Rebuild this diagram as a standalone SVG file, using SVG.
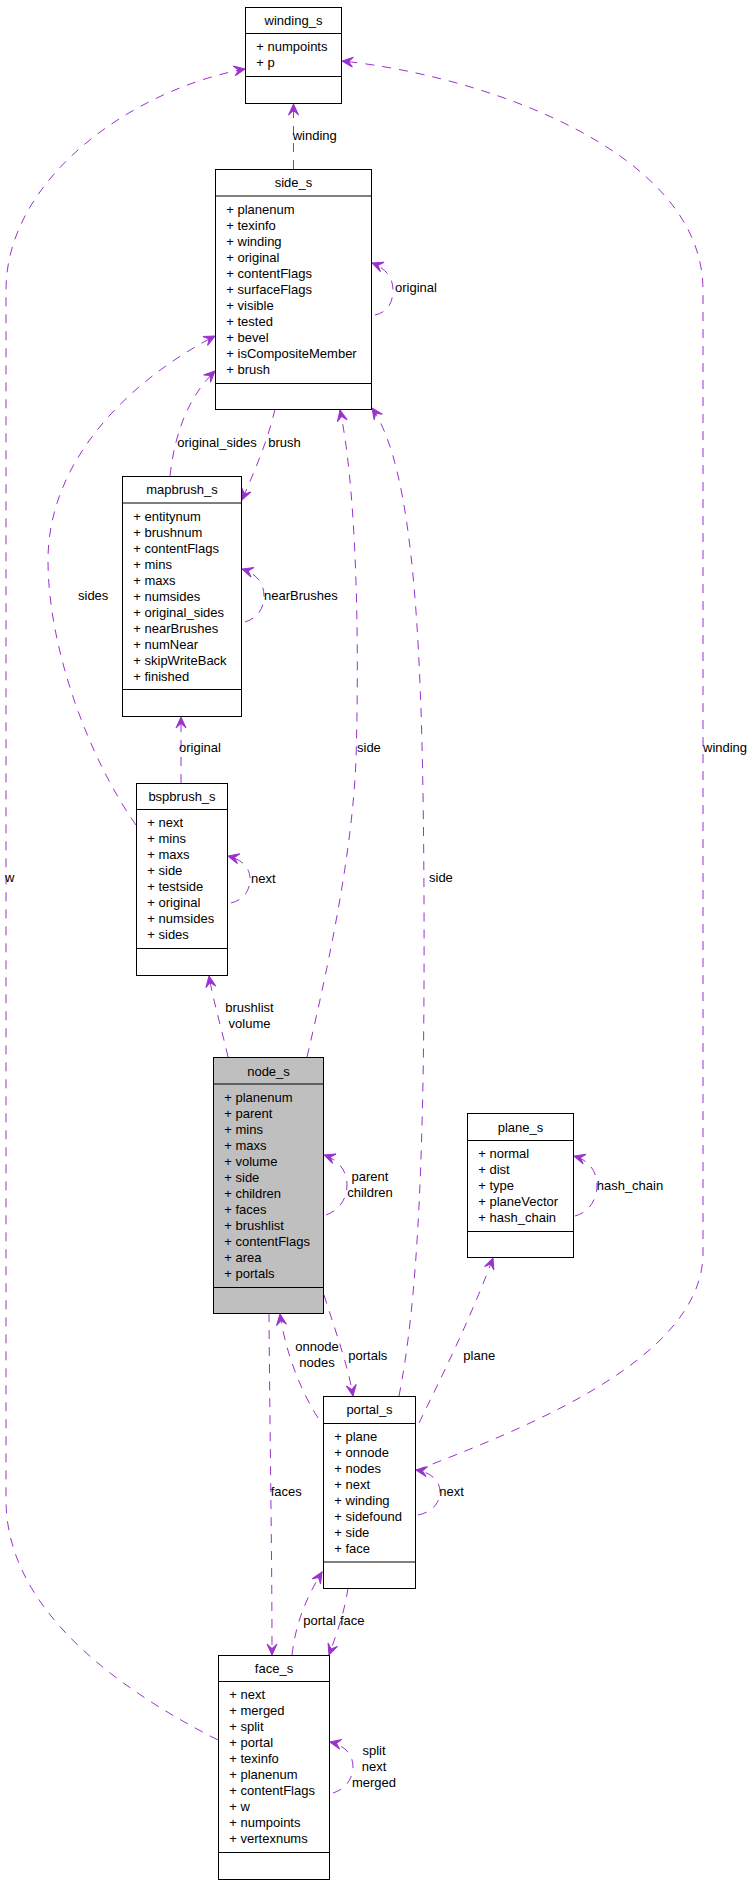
<svg xmlns="http://www.w3.org/2000/svg" width="755" height="1885" viewBox="0 0 755 1885">
<style>
.box{fill:#ffffff;stroke:#000000;stroke-width:1}
.gray{fill:#bfbfbf}
.sep{stroke:#000000;stroke-width:1}
.t{font-family:"Liberation Sans",Arial,Helvetica,sans-serif;font-size:13px;fill:#000000}
.c{text-anchor:middle}
.e{fill:none;stroke:#9a32cd;stroke-width:1;stroke-dasharray:9,8;marker-end:url(#arr)}
</style>
<defs>
<marker id="arr" markerUnits="userSpaceOnUse" viewBox="-12 -6 13 12" refX="0" refY="0" markerWidth="13" markerHeight="12" orient="auto">
<path d="M0,0 L-11,-5 L-6.5,0 L-11,5 Z" fill="#9a32cd" stroke="#9a32cd" stroke-width="1"/>
</marker>
</defs>
<rect width="755" height="1885" fill="#ffffff"/>

<g id="connectors">
<path class="e" d="M293.5,169 L293.5,104"/>
<path class="e" d="M218,1740 C 100,1680 6,1600 6,1500 L6,290 C 6,180 130,90 245,69"/>
<path class="e" d="M417,1470 C 520,1430 703,1360 703,1253 L703,290 C 703,150 480,75 342,61"/>
<path class="e" d="M375,315 C 388,312 393,302 393,290 C 393,277 385,268 372,263"/>
<path class="e" d="M136,825 C 90,760 48,650 48,560 C 48,460 130,380 215,336"/>
<path class="e" d="M170,476 C 175,430 190,395 215,371"/>
<path class="e" d="M307,1057 C 325,980 352,860 356,760 C 360,620 355,480 340,410"/>
<path class="e" d="M399,1396 C 418,1300 425,1150 424,900 C 423,650 415,470 372,408"/>
<path class="e" d="M275,409 C 268,440 255,470 242,500"/>
<path class="e" d="M245,622 C 258,618 264,608 264,596 C 264,582 255,573 242,569"/>
<path class="e" d="M181,783 L181,717"/>
<path class="e" d="M231,903 C 244,900 250,890 250,879 C 250,866 240,859 228,856"/>
<path class="e" d="M228,1057 C 222,1030 213,1000 209,976"/>
<path class="e" d="M326,1215 C 340,1210 347,1198 347,1185 C 347,1170 338,1160 324,1155"/>
<path class="e" d="M318,1418 C 300,1390 285,1350 280,1314"/>
<path class="e" d="M269,1313 C 270,1450 272,1550 272,1655"/>
<path class="e" d="M324,1295 C 335,1330 348,1365 353,1396"/>
<path class="e" d="M419,1423 C 440,1380 470,1320 493,1258"/>
<path class="e" d="M575,1216 C 590,1212 597,1198 597,1186 C 597,1170 588,1160 574,1156"/>
<path class="e" d="M418,1515 C 433,1512 440,1502 440,1492 C 440,1480 430,1472 416,1470"/>
<path class="e" d="M292,1655 C 296,1620 308,1595 322,1572"/>
<path class="e" d="M348,1588 C 345,1610 338,1630 329,1655"/>
<path class="e" d="M333,1793 C 346,1789 353,1778 353,1767 C 353,1754 344,1745 330,1742"/>

<text class="t" x="292.7" y="140">winding</text>
<text class="t" x="5" y="882">w</text>
<text class="t" x="703" y="752">winding</text>
<text class="t" x="395" y="292">original</text>
<text class="t" x="78" y="600">sides</text>
<text class="t" x="177.3" y="447">original_sides</text>
<text class="t" x="357" y="752">side</text>
<text class="t" x="429" y="882">side</text>
<text class="t" x="268.3" y="447">brush</text>
<text class="t" x="264" y="600">nearBrushes</text>
<text class="t" x="179" y="752">original</text>
<text class="t" x="251" y="883">next</text>
<text class="t c" x="249.5" y="1012">brushlist</text>
<text class="t c" x="249.5" y="1028">volume</text>
<text class="t c" x="370" y="1181">parent</text>
<text class="t c" x="370" y="1197">children</text>
<text class="t c" x="317" y="1351">onnode</text>
<text class="t c" x="317" y="1367">nodes</text>
<text class="t" x="270.7" y="1496">faces</text>
<text class="t" x="348.3" y="1359.5">portals</text>
<text class="t" x="463.3" y="1359.5">plane</text>
<text class="t" x="596.7" y="1189.5">hash_chain</text>
<text class="t" x="439.3" y="1496">next</text>
<text class="t" x="303.3" y="1625">portal</text>
<text class="t" x="340" y="1625">face</text>
<text class="t c" x="374" y="1755">split</text>
<text class="t c" x="374" y="1771">next</text>
<text class="t c" x="374" y="1787">merged</text>
</g>

<g id="winding_s">
<rect class="box" x="245.5" y="7.5" width="96" height="96"/>
<line class="sep" x1="245.5" y1="33.5" x2="341.5" y2="33.5"/>
<line class="sep" x1="245.5" y1="76.5" x2="341.5" y2="76.5"/>
<text class="t c" x="293.5" y="25">winding_s</text>
<text class="t" x="256.3" y="51">+ numpoints</text>
<text class="t" x="256.3" y="67">+ p</text>
</g>

<g id="side_s">
<rect class="box" x="215.5" y="169.5" width="156" height="240"/>
<line class="sep" x1="215.5" y1="196" x2="371.5" y2="196"/>
<line class="sep" x1="215.5" y1="383.5" x2="371.5" y2="383.5"/>
<text class="t c" x="293.5" y="187">side_s</text>
<text class="t" x="226.3" y="213.5">+ planenum</text>
<text class="t" x="226.3" y="229.5">+ texinfo</text>
<text class="t" x="226.3" y="245.5">+ winding</text>
<text class="t" x="226.3" y="261.5">+ original</text>
<text class="t" x="226.3" y="277.5">+ contentFlags</text>
<text class="t" x="226.3" y="293.5">+ surfaceFlags</text>
<text class="t" x="226.3" y="309.5">+ visible</text>
<text class="t" x="226.3" y="325.5">+ tested</text>
<text class="t" x="226.3" y="341.5">+ bevel</text>
<text class="t" x="226.3" y="357.5">+ isCompositeMember</text>
<text class="t" x="226.3" y="373.5">+ brush</text>
</g>

<g id="mapbrush_s">
<rect class="box" x="122.5" y="476.5" width="119" height="240"/>
<line class="sep" x1="122.5" y1="503" x2="241.5" y2="503"/>
<line class="sep" x1="122.5" y1="689.5" x2="241.5" y2="689.5"/>
<text class="t c" x="182" y="494">mapbrush_s</text>
<text class="t" x="133.3" y="520.5">+ entitynum</text>
<text class="t" x="133.3" y="536.5">+ brushnum</text>
<text class="t" x="133.3" y="552.5">+ contentFlags</text>
<text class="t" x="133.3" y="568.5">+ mins</text>
<text class="t" x="133.3" y="584.5">+ maxs</text>
<text class="t" x="133.3" y="600.5">+ numsides</text>
<text class="t" x="133.3" y="616.5">+ original_sides</text>
<text class="t" x="133.3" y="632.5">+ nearBrushes</text>
<text class="t" x="133.3" y="648.5">+ numNear</text>
<text class="t" x="133.3" y="664.5">+ skipWriteBack</text>
<text class="t" x="133.3" y="680.5">+ finished</text>
</g>

<g id="bspbrush_s">
<rect class="box" x="136.5" y="783.5" width="91" height="192"/>
<line class="sep" x1="136.5" y1="809.5" x2="227.5" y2="809.5"/>
<line class="sep" x1="136.5" y1="948.5" x2="227.5" y2="948.5"/>
<text class="t c" x="182" y="800.5">bspbrush_s</text>
<text class="t" x="147.3" y="827">+ next</text>
<text class="t" x="147.3" y="843">+ mins</text>
<text class="t" x="147.3" y="859">+ maxs</text>
<text class="t" x="147.3" y="875">+ side</text>
<text class="t" x="147.3" y="891">+ testside</text>
<text class="t" x="147.3" y="907">+ original</text>
<text class="t" x="147.3" y="923">+ numsides</text>
<text class="t" x="147.3" y="939">+ sides</text>
</g>

<g id="node_s">
<rect class="box gray" x="213.5" y="1057.5" width="110" height="256"/>
<line class="sep" x1="213.5" y1="1084" x2="323.5" y2="1084"/>
<line class="sep" x1="213.5" y1="1287.5" x2="323.5" y2="1287.5"/>
<text class="t c" x="268.5" y="1075.5">node_s</text>
<text class="t" x="224.3" y="1101.5">+ planenum</text>
<text class="t" x="224.3" y="1117.5">+ parent</text>
<text class="t" x="224.3" y="1133.5">+ mins</text>
<text class="t" x="224.3" y="1149.5">+ maxs</text>
<text class="t" x="224.3" y="1165.5">+ volume</text>
<text class="t" x="224.3" y="1181.5">+ side</text>
<text class="t" x="224.3" y="1197.5">+ children</text>
<text class="t" x="224.3" y="1213.5">+ faces</text>
<text class="t" x="224.3" y="1229.5">+ brushlist</text>
<text class="t" x="224.3" y="1245.5">+ contentFlags</text>
<text class="t" x="224.3" y="1261.5">+ area</text>
<text class="t" x="224.3" y="1277.5">+ portals</text>
</g>

<g id="plane_s">
<rect class="box" x="467.5" y="1113.5" width="106" height="144"/>
<line class="sep" x1="467.5" y1="1140.5" x2="573.5" y2="1140.5"/>
<line class="sep" x1="467.5" y1="1231.5" x2="573.5" y2="1231.5"/>
<text class="t c" x="520.5" y="1131.5">plane_s</text>
<text class="t" x="478.3" y="1157.5">+ normal</text>
<text class="t" x="478.3" y="1173.5">+ dist</text>
<text class="t" x="478.3" y="1189.5">+ type</text>
<text class="t" x="478.3" y="1205.5">+ planeVector</text>
<text class="t" x="478.3" y="1221.5">+ hash_chain</text>
</g>

<g id="portal_s">
<rect class="box" x="323.5" y="1396.5" width="92" height="192"/>
<line class="sep" x1="323.5" y1="1423.5" x2="415.5" y2="1423.5"/>
<line class="sep" x1="323.5" y1="1562" x2="415.5" y2="1562"/>
<text class="t c" x="369.5" y="1414">portal_s</text>
<text class="t" x="334.3" y="1440.5">+ plane</text>
<text class="t" x="334.3" y="1456.5">+ onnode</text>
<text class="t" x="334.3" y="1472.5">+ nodes</text>
<text class="t" x="334.3" y="1488.5">+ next</text>
<text class="t" x="334.3" y="1504.5">+ winding</text>
<text class="t" x="334.3" y="1520.5">+ sidefound</text>
<text class="t" x="334.3" y="1536.5">+ side</text>
<text class="t" x="334.3" y="1552.5">+ face</text>
</g>

<g id="face_s">
<rect class="box" x="218.5" y="1655.5" width="111" height="224"/>
<line class="sep" x1="218.5" y1="1681.5" x2="329.5" y2="1681.5"/>
<line class="sep" x1="218.5" y1="1852.5" x2="329.5" y2="1852.5"/>
<text class="t c" x="274" y="1672.5">face_s</text>
<text class="t" x="229.3" y="1699">+ next</text>
<text class="t" x="229.3" y="1715">+ merged</text>
<text class="t" x="229.3" y="1731">+ split</text>
<text class="t" x="229.3" y="1747">+ portal</text>
<text class="t" x="229.3" y="1763">+ texinfo</text>
<text class="t" x="229.3" y="1779">+ planenum</text>
<text class="t" x="229.3" y="1795">+ contentFlags</text>
<text class="t" x="229.3" y="1811">+ w</text>
<text class="t" x="229.3" y="1827">+ numpoints</text>
<text class="t" x="229.3" y="1843">+ vertexnums</text>
</g>
</svg>
